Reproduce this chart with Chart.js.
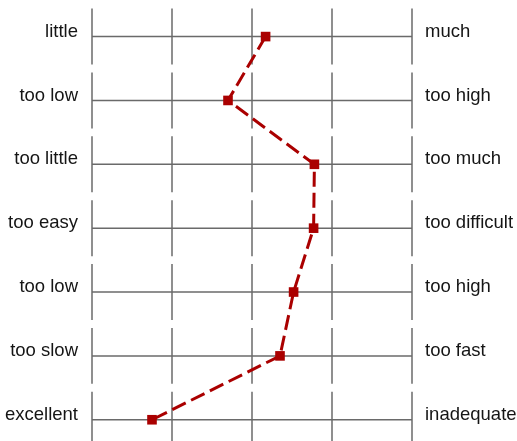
<html>
<head>
<script src="https://cdn.jsdelivr.net/npm/chart.js@4.4.0/dist/chart.umd.min.js"></script>
<style>
  html, body { margin: 0; padding: 0; background: #fff; overflow: hidden; }
  #wrap { width: 517px; height: 441px; }
</style>
</head>
<body>
<div id="wrap"><canvas id="myChart"></canvas></div>
<script>
// left and right poles of each scale, top to bottom
var leftLabels = ['little', 'too low', 'too little', 'too easy', 'too low', 'too slow', 'excellent'];
var rightLabels = ['much', 'too high', 'too much', 'too difficult', 'too high', 'too fast', 'inadequate'];
// mean rating per item on a 1..5 scale
var ratings = [3.17, 2.70, 3.78, 3.77, 3.52, 3.35, 1.75];
var scaleSteps = [1, 2, 3, 4, 5];

var gridColor = '#6a6a6a';
var lineColor = 'rgb(170,0,0)';

// draws the broken grid: one horizontal line per item and short vertical bars
var rowGrid = {
    id: 'rowGrid',
    beforeDatasetsDraw: function (chart) {
        var ctx = chart.ctx;
        var xs = chart.scales.x;
        var ys = chart.scales.y;
        var half = 0.438;
        ctx.save();
        ctx.strokeStyle = gridColor;
        ctx.lineWidth = 1.5;
        for (var i = 0; i < leftLabels.length; i++) {
            var y = ys.getPixelForValue(i);
            ctx.beginPath();
            ctx.moveTo(xs.getPixelForValue(scaleSteps[0]), y);
            ctx.lineTo(xs.getPixelForValue(scaleSteps[scaleSteps.length - 1]), y);
            ctx.stroke();
            var y0 = ys.getPixelForValue(i - half);
            var y1 = ys.getPixelForValue(i + half);
            for (var j = 0; j < scaleSteps.length; j++) {
                var x = xs.getPixelForValue(scaleSteps[j]);
                ctx.beginPath();
                ctx.moveTo(x, y0);
                ctx.lineTo(x, y1);
                ctx.stroke();
            }
        }
        ctx.restore();
    }
};

function rowTicks(scale) {
    scale.ticks = leftLabels.map(function (_, i) { return { value: i }; });
}

var ctx = document.getElementById('myChart').getContext('2d');
var chart = new Chart(ctx, {
    type: 'line',
    data: {
        datasets: [{
            data: ratings.map(function (v, i) { return { x: v, y: i }; }),
            borderColor: lineColor,
            backgroundColor: lineColor,
            borderWidth: 3,
            borderDash: [15, 6],
            pointStyle: 'rect',
            pointRadius: 6.8,
            pointHoverRadius: 6.8,
            pointBorderWidth: 0,
            tension: 0,
            clip: false
        }]
    },
    options: {
        responsive: true,
        maintainAspectRatio: false,
        animation: false,
        events: [],
        layout: { padding: 0 },
        plugins: { legend: { display: false }, tooltip: { enabled: false } },
        scales: {
            x: {
                type: 'linear',
                min: 1,
                max: 5,
                display: false
            },
            y: {
                type: 'linear',
                position: 'left',
                reverse: true,
                min: -0.399,
                max: 6.159,
                afterBuildTicks: rowTicks,
                afterFit: function (s) { s.width = 92; },
                grid: { display: false, drawTicks: true, tickLength: 14 },
                border: { display: false },
                ticks: {
                    padding: 0,
                    labelOffset: -5,
                    color: '#151515',
                    font: { family: 'Liberation Sans, Arial, sans-serif', size: 18.5 },
                    callback: function (v) { return leftLabels[v]; }
                }
            },
            y2: {
                type: 'linear',
                position: 'right',
                reverse: true,
                min: -0.399,
                max: 6.159,
                afterBuildTicks: rowTicks,
                afterFit: function (s) { s.width = 105; },
                grid: { display: false, drawTicks: true, tickLength: 13 },
                border: { display: false },
                ticks: {
                    padding: 0,
                    labelOffset: -5,
                    color: '#151515',
                    font: { family: 'Liberation Sans, Arial, sans-serif', size: 18.5 },
                    callback: function (v) { return rightLabels[v]; }
                }
            }
        }
    },
    plugins: [rowGrid]
});
</script>
</body>
</html>
